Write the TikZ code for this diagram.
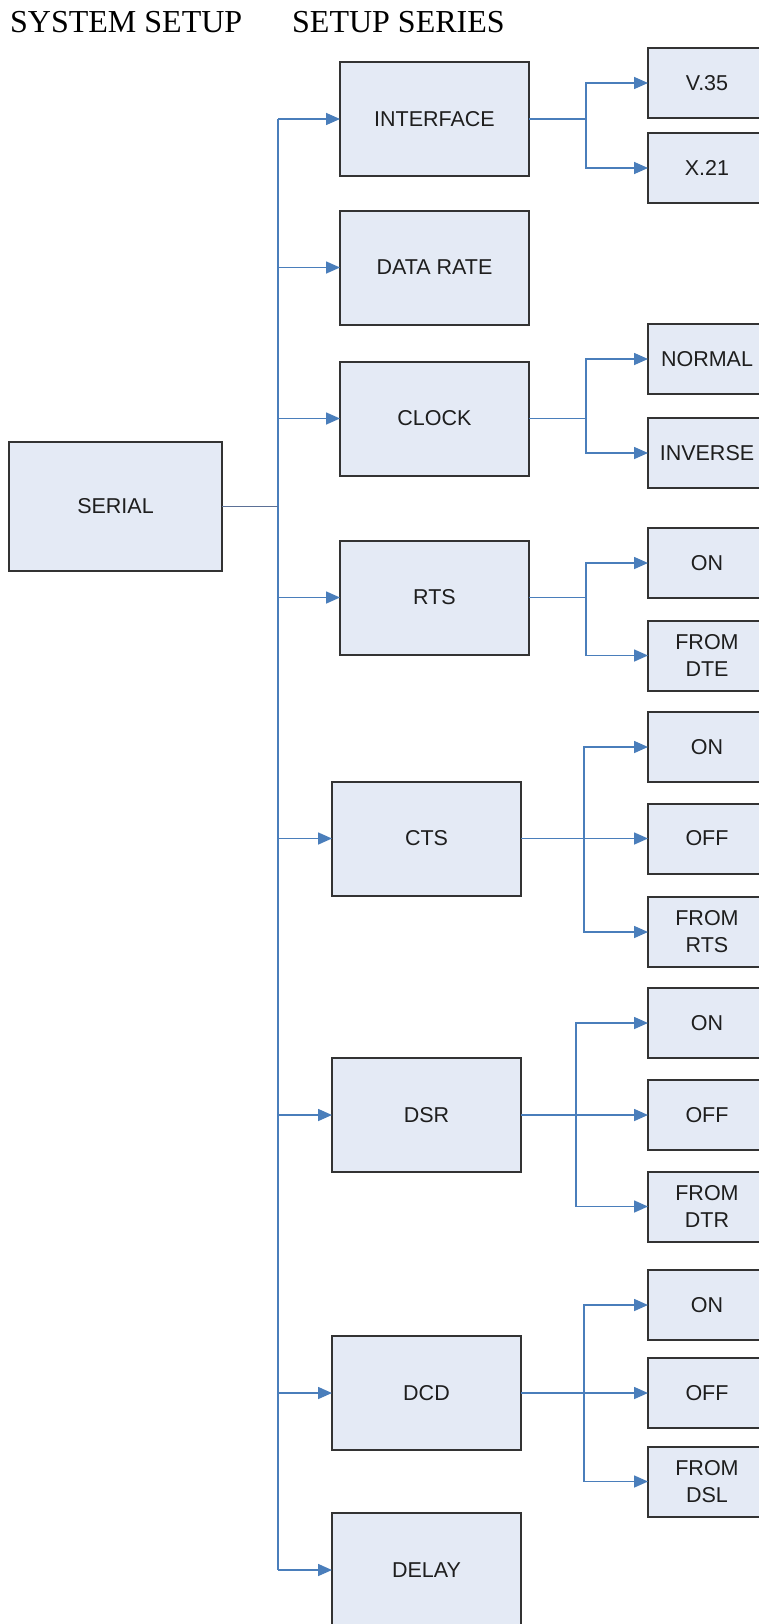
\documentclass[tikz,border=0pt]{standalone}
\usepackage{fontspec}
\setmainfont{Liberation Serif}
\newfontfamily\boxfont{Liberation Sans}
\usetikzlibrary{arrows.meta}
\definecolor{boxfill}{HTML}{E4EAF5}
\definecolor{boxline}{HTML}{333333}
\definecolor{conn}{HTML}{4A7EBB}
\definecolor{sline}{HTML}{5B7096}
\definecolor{txt}{HTML}{1E1E1E}
\tikzset{
  x=1pt, y=-1pt,
  basebox/.style={draw=boxline, fill=boxfill, line width=2pt, inner sep=0pt, outer sep=0pt,
    text=txt, align=center, font=\boxfont\fontsize{21.5}{27}\selectfont},
  midbox/.style={basebox, minimum width=189pt, minimum height=114pt},
  optbox/.style={basebox, minimum width=118pt, minimum height=70pt},
  mainbox/.style={basebox, minimum width=213pt, minimum height=129pt},
  arr/.style={draw=conn, line width=1.6pt, -{Triangle[length=14pt,width=12pt]}},
  branch/.style={draw=conn, line width=1.6pt},
  busline/.style={draw=conn, line width=2.4pt},
  serline/.style={draw=sline, line width=1.3pt},
  title/.style={anchor=base west, inner sep=0pt, font=\fontsize{32}{36}\selectfont}
}
\begin{document}
\begin{tikzpicture}
\useasboundingbox (0,0) rectangle (759,1624);
\clip (0,0) rectangle (759,1624);
\fill[white] (0,0) rectangle (759,1624);

\node[title] (t1) at (10,33) {SYSTEM SETUP};
\node[title] (t2) at (292,33) {SETUP SERIES};

% main box
\node[mainbox] (serial) at (115.5,506.5) {SERIAL};

% middle column
\node[midbox] (iface) at (434.5,119) {INTERFACE};
\node[midbox] (drate) at (434.5,267.5) {DATA RATE};
\node[midbox] (clock) at (434.5,418.5) {CLOCK};
\node[midbox] (rts) at (434.5,597.5) {RTS};
\node[midbox] (cts) at (426.5,838.5) {CTS};
\node[midbox] (dsr) at (426.5,1115) {DSR};
\node[midbox] (dcd) at (426.5,1393) {DCD};
\node[midbox] (delay) at (426.5,1570) {DELAY};

% right column
\node[optbox] (v35) at (707,83) {V.35};
\node[optbox] (x21) at (707,168) {X.21};
\node[optbox] (normal) at (707,359) {NORMAL};
\node[optbox] (inverse) at (707,453) {INVERSE};
\node[optbox] (rtson) at (707,563) {ON};
\node[optbox] (rtsdte) at (707,655.5) {FROM\\DTE};
\node[optbox] (ctson) at (707,747) {ON};
\node[optbox] (ctsoff) at (707,838.5) {OFF};
\node[optbox] (ctsrts) at (707,932) {FROM\\RTS};
\node[optbox] (dsron) at (707,1023) {ON};
\node[optbox] (dsroff) at (707,1115) {OFF};
\node[optbox] (dsrdtr) at (707,1206.5) {FROM\\DTR};
\node[optbox] (dcdon) at (707,1305) {ON};
\node[optbox] (dcdoff) at (707,1393) {OFF};
\node[optbox] (dcddsl) at (707,1481.5) {FROM\\DSL};

% bus
\coordinate (bus) at (278,0);
\coordinate (btop) at (278,119);
\coordinate (bbot) at (278,1570);
\draw[busline] (btop) -- (bbot);
\draw[serline] (serial.east) -- (serial.east -| bus);
\foreach \n in {iface,drate,clock,rts,cts,dsr,dcd,delay}
  \draw[arr] (\n.west -| bus) -- (\n.west);

% branches
\coordinate (ja) at (586,0);
\coordinate (jb) at (584,0);
\coordinate (jc) at (576,0);

\draw[branch] (iface.east) -- (iface.east -| ja);
\draw[arr] (iface.east -| ja) |- (v35.west);
\draw[arr] (iface.east -| ja) |- (x21.west);

\draw[branch] (clock.east) -- (clock.east -| ja);
\draw[arr] (clock.east -| ja) |- (normal.west);
\draw[arr] (clock.east -| ja) |- (inverse.west);

\draw[branch] (rts.east) -- (rts.east -| ja);
\draw[arr] (rts.east -| ja) |- (rtson.west);
\draw[arr] (rts.east -| ja) |- (rtsdte.west);

\draw[arr] (cts.east) -- (ctsoff.west);
\draw[arr] (cts.east -| jb) |- (ctson.west);
\draw[arr] (cts.east -| jb) |- (ctsrts.west);

\draw[arr] (dsr.east) -- (dsroff.west);
\draw[arr] (dsr.east -| jc) |- (dsron.west);
\draw[arr] (dsr.east -| jc) |- (dsrdtr.west);

\draw[arr] (dcd.east) -- (dcdoff.west);
\draw[arr] (dcd.east -| jb) |- (dcdon.west);
\draw[arr] (dcd.east -| jb) |- (dcddsl.west);
\end{tikzpicture}
\end{document}
